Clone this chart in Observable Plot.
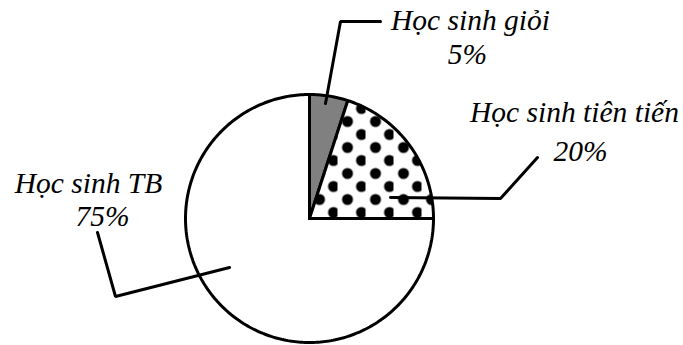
<!DOCTYPE html>
<html><head><meta charset="utf-8">
<script src="https://cdn.jsdelivr.net/npm/d3@7"></script>
<script src="https://cdn.jsdelivr.net/npm/@observablehq/plot@0.6"></script>
<style>html,body{margin:0;padding:0;background:#fff}</style>
</head><body><div id="chart"></div>
<script>
// ---- data ----
const categories = ["Học sinh giỏi", "Học sinh tiên tiến", "Học sinh TB"];
const percents = [5, 20, 75];
const percentLabels = ["5%", "20%", "75%"];
const fills = ["#808080", "url(#dots)", "#ffffff"];

// ---- layout (pixels) ----
const W = 683, H = 345, cx = 309, cy = 218, R = 124;
const fontSize = 29.5;
const nameAt = [[470, 29], [574, 121], [88, 192]];   // baselines
const pctAt = [[467, 63], [580, 160], [102, 225]];
const leaders = [
  [[325, 103], [340, 21], [380, 21]],
  [[390, 197], [500, 198], [537, 157]],
  [[97, 232], [115, 296], [229, 267]]
];

// ---- wedges from data ----
const total = d3.sum(percents);
let acc = 0;
const wedges = categories.map((c, i) => {
  const a0 = acc / total * 360, a1 = (acc + percents[i]) / total * 360;
  acc += percents[i];
  const pts = [{x: cx, y: cy}];
  const n = Math.max(2, Math.ceil(a1 - a0));
  for (let k = 0; k <= n; k++) {
    const a = (a0 + (a1 - a0) * k / n) * Math.PI / 180;
    pts.push({x: cx + R * Math.sin(a), y: cy - R * Math.cos(a)});
  }
  pts.push({x: cx, y: cy});
  return pts;
});

const serif = "Liberation Serif, Times New Roman, serif";
const textStyle = {fontFamily: serif, fontStyle: "italic", fontSize, textAnchor: "middle", fill: "black"};
const mid = fontSize * 0.32;
const names = categories.map((c, i) => ({text: c, x: nameAt[i][0], y: nameAt[i][1] - mid}));
const pcts = percentLabels.map((t, i) => ({text: t, x: pctAt[i][0], y: pctAt[i][1] - mid}));

const order = [2, 0, 1];
const marks = [
  ...order.map(i => Plot.line(wedges[i], {x: "x", y: "y", fill: fills[i], stroke: "black", strokeWidth: 3, strokeLinejoin: "miter"})),
  ...leaders.map(l => Plot.line(l.map(([x, y]) => ({x, y})), {x: "x", y: "y", stroke: "black", strokeWidth: 3, strokeLinejoin: "miter"})),
  Plot.text(names, {x: "x", y: "y", text: "text", ...textStyle}),
  Plot.text(pcts, {x: "x", y: "y", text: "text", ...textStyle})
];

const svg = Plot.plot({
  width: W, height: H, margin: 0,
  x: {domain: [0, W], range: [0, W], axis: null},
  y: {domain: [0, H], range: [0, H], axis: null},
  style: {background: "white", overflow: "visible", fontFamily: serif},
  marks
});

const defs = d3.select(svg).insert("defs", ":first-child");
const pat = defs.append("pattern").attr("id", "dots").attr("patternUnits", "userSpaceOnUse")
  .attr("width", 28).attr("height", 26).attr("x", cx).attr("y", cy);
pat.append("rect").attr("width", 28).attr("height", 26).attr("fill", "white");
pat.append("circle").attr("cx", 10).attr("cy", 7).attr("r", 5.5).attr("fill", "black");
pat.append("circle").attr("cx", 24).attr("cy", 20).attr("r", 5.5).attr("fill", "black");

document.getElementById("chart").append(svg);
</script>
</body></html>
